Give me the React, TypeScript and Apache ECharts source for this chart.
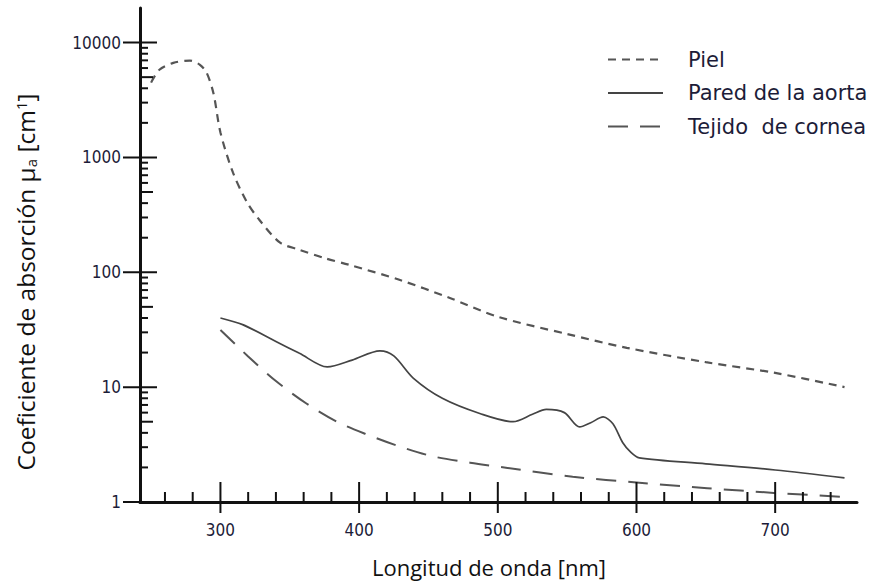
import React, { useEffect, useRef } from "react";
import * as echarts from "echarts";

const pielX = [250, 256, 266, 278, 285, 290, 295, 300, 309, 319, 328, 343, 357, 375, 393, 429, 465, 500, 550, 593, 650, 700, 750];
const pielY = [4480, 5800, 6650, 6970, 6430, 5480, 3600, 1650, 740, 410, 287, 181, 157, 133, 116, 86, 60, 41, 29, 22, 16.5, 13.3, 10];

const paredX = [300, 316, 340, 357, 377, 395, 415, 425, 439, 460, 487, 511, 525, 535, 548, 559, 567, 576, 583, 590, 596, 602, 650, 700, 750];
const paredY = [40, 35, 25, 19.7, 15, 17.2, 20.7, 18.7, 12, 8, 5.9, 5.0, 5.8, 6.4, 6.0, 4.5, 4.9, 5.5, 4.8, 3.3, 2.7, 2.42, 2.15, 1.9, 1.62];

const tejidoX = [300, 320, 340, 362, 384, 405, 429, 453, 480, 507, 554, 602, 651, 699, 755];
const tejidoY = [31.5, 18.5, 11.3, 7.2, 5.0, 3.9, 3.05, 2.5, 2.2, 1.98, 1.66, 1.47, 1.32, 1.2, 1.1];

const seriesNames = ["Piel", "Pared de la aorta", "Tejido  de cornea"];

const xLabelValues = [300, 400, 500, 600, 700];
const xMinorTicks = [260, 280, 320, 340, 360, 380, 420, 440, 460, 480, 520, 540, 560, 580, 620, 640, 660, 680, 720, 740];
const yMajorTicks = [1, 10, 100, 1000, 10000];
const yMinorFactors = [2, 3, 4, 5, 6, 7, 8, 9];

const X_MIN = 242;
const X_MAX = 759;
const Y_MIN = 1;
const Y_MAX = 20000;

const tickFont = '"DejaVu Sans Condensed", "DejaVu Sans", sans-serif';
const titleFont = '"Open Sans", "Noto Sans", sans-serif';
const labelColor = "#1c1c38";

export default function App() {
  const ref = useRef<HTMLDivElement>(null);

  useEffect(() => {
    if (!ref.current) return;
    const chart = echarts.init(ref.current, undefined, { renderer: "svg" });

    // tick marks: [x, y, kind]
    const ticks: number[][] = [];
    yMajorTicks.forEach((v) => ticks.push([X_MIN, v, 0]));
    yMajorTicks.forEach((v) =>
      yMinorFactors.forEach((f) => {
        const val = v * f;
        if (val < Y_MAX) ticks.push([X_MIN, val, f === 5 ? 2 : 1]);
      })
    );
    xLabelValues.forEach((v) => ticks.push([v, Y_MIN, 3]));
    xMinorTicks.forEach((v) => ticks.push([v, Y_MIN, 4]));

    const zip = (xs: number[], ys: number[]) => xs.map((x, i) => [x, ys[i]]);

    chart.setOption({
      animation: false,
      backgroundColor: "#ffffff",
      grid: { left: 140, right: 13, top: 8, bottom: 86, containLabel: false },
      legend: {
        orient: "vertical",
        left: 602,
        top: 44,
        itemWidth: 55,
        itemHeight: 12,
        itemGap: 12.5,
        data: seriesNames,
        itemStyle: { opacity: 0 },
        textStyle: {
          fontFamily: '"DejaVu Sans", sans-serif',
          fontSize: 21,
          color: labelColor,
          padding: [0, 0, 0, 20],
        },
      },
      xAxis: {
        type: "value",
        min: X_MIN,
        max: X_MAX,
        axisLine: { show: true, lineStyle: { color: "#111", width: 3 } },
        axisTick: { show: false },
        splitLine: { show: false },
        axisLabel: {
          customValues: xLabelValues,
          margin: 19,
          fontFamily: tickFont,
          fontSize: 17,
          color: labelColor,
        },
        name: "Longitud de onda [nm]",
        nameLocation: "middle",
        nameGap: 54,
        nameTextStyle: {
          fontFamily: titleFont,
          fontSize: 22,
          color: "#111",
          padding: [0, 19, 0, 0],
        },
      },
      yAxis: {
        type: "log",
        logBase: 10,
        min: Y_MIN,
        max: Y_MAX,
        axisLine: { show: true, lineStyle: { color: "#111", width: 3 } },
        axisTick: { show: false },
        splitLine: { show: false },
        minorTick: { show: false },
        axisLabel: {
          margin: 19,
          showMaxLabel: false,
          fontFamily: tickFont,
          fontSize: 17,
          color: labelColor,
          formatter: (v: number) => {
            const l = Math.log10(v);
            return Math.abs(l - Math.round(l)) < 1e-6 ? String(Math.round(v)) : "";
          },
        },
        name: "{t|Coeficiente de absorción μ}{s|a}{t| [cm}{p|1}{t|]}",
        nameLocation: "middle",
        nameGap: 102,
        nameRotate: 90,
        nameTextStyle: {
          color: "#111",
          padding: [0, 54, 0, 0],
          rich: {
            t: { fontFamily: titleFont, fontSize: 24.5, color: "#111" },
            s: { fontFamily: titleFont, fontSize: 15, color: "#111", verticalAlign: "bottom" },
            p: { fontFamily: titleFont, fontSize: 15, color: "#111", verticalAlign: "top" },
          },
        },
      },
      series: [
        {
          name: seriesNames[0],
          type: "line",
          data: zip(pielX, pielY),
          smooth: 0.3,
          symbol: "none",
          lineStyle: { color: "#555", width: 2.2, type: [8, 6] },
          itemStyle: { color: "#555" },
        },
        {
          name: seriesNames[1],
          type: "line",
          data: zip(paredX, paredY),
          smooth: 0.3,
          symbol: "none",
          lineStyle: { color: "#444", width: 1.7, type: "solid" },
          itemStyle: { color: "#444" },
        },
        {
          name: seriesNames[2],
          type: "line",
          data: zip(tejidoX, tejidoY),
          smooth: 0.3,
          symbol: "none",
          lineStyle: { color: "#555", width: 2, type: [20, 12] },
          itemStyle: { color: "#555" },
        },
        {
          name: "ticks",
          type: "custom",
          silent: true,
          clip: false,
          z: 5,
          encode: { x: 0, y: 1 },
          data: ticks,
          renderItem: (params: any, api: any) => {
            const kind = api.value(2);
            const p = api.coord([api.value(0), api.value(1)]);
            let x1 = p[0], x2 = p[0], y1 = p[1], y2 = p[1];
            if (kind === 0) { x1 = p[0] - 17; x2 = p[0] + 17; }
            else if (kind === 1) { x2 = p[0] + 8; }
            else if (kind === 2) { x2 = p[0] + 13; }
            else if (kind === 3) { y1 = p[1] - 20; y2 = p[1] + 11; }
            else { y1 = p[1] - 10; }
            return {
              type: "line",
              shape: { x1, y1, x2, y2 },
              style: { stroke: "#111", lineWidth: 2 },
            };
          },
        },
      ],
    });

    return () => chart.dispose();
  }, []);

  return (
    <div
      ref={ref}
      style={{ position: "fixed", left: 0, top: 0, width: 870, height: 588, background: "#fff" }}
    />
  );
}
